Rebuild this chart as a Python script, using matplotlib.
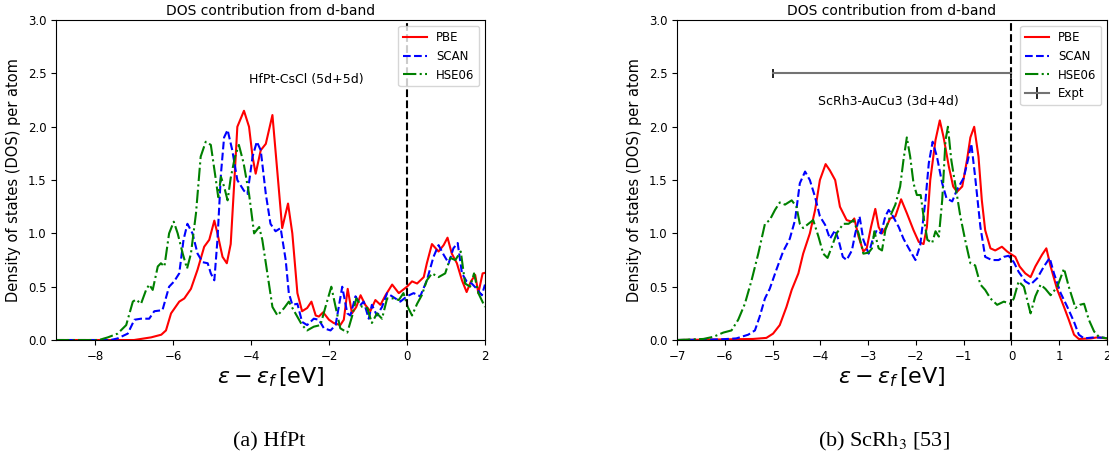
import matplotlib
matplotlib.use('Agg')
import matplotlib.pyplot as plt

# ---- (a) HfPt, energies in eV relative to E_f, DOS per atom ----
hf_pbe_x = [-9.0, -7.0, -6.56, -6.3, -6.18, -6.05, -5.84, -5.71, -5.54, -5.37, -5.2, -5.07, -4.94,
            -4.86, -4.73, -4.62, -4.52, -4.43, -4.35, -4.18, -4.05, -3.96, -3.88, -3.75, -3.62,
            -3.45, -3.32, -3.2, -3.05, -2.94, -2.81, -2.69, -2.56, -2.45, -2.34, -2.26, -2.15,
            -2.0, -1.88, -1.71, -1.62, -1.52, -1.41, -1.3, -1.19, -1.07, -0.94, -0.81, -0.68,
            -0.55, -0.38, -0.21, 0.0, 0.13, 0.26, 0.43, 0.51, 0.64, 0.81, 0.94, 1.04, 1.15, 1.28,
            1.41, 1.53, 1.64, 1.75, 1.83, 1.94, 2.0]
hf_pbe_y = [0.0, 0.0, 0.025, 0.05, 0.09, 0.25, 0.36, 0.39, 0.48, 0.66, 0.875, 0.94, 1.12,
            1.0, 0.78, 0.72, 0.9, 1.47, 2.0, 2.15, 2.0, 1.72, 1.56, 1.78, 1.84,
            2.11, 1.56, 1.05, 1.28, 1.0, 0.44, 0.27, 0.3, 0.36, 0.23, 0.22, 0.26,
            0.19, 0.16, 0.14, 0.19, 0.48, 0.25, 0.31, 0.42, 0.33, 0.27, 0.375, 0.33,
            0.42, 0.52, 0.44, 0.5, 0.55, 0.53, 0.59, 0.72, 0.9, 0.83, 0.89, 0.96, 0.81, 0.72,
            0.56, 0.45, 0.55, 0.61, 0.44, 0.625, 0.63]

hf_scan_x = [-9.0, -7.6, -7.42, -7.16, -6.99, -6.82, -6.61, -6.48, -6.27, -6.1, -5.97, -5.84,
             -5.73, -5.63, -5.5, -5.37, -5.24, -5.11, -5.03, -4.94, -4.86, -4.77, -4.69, -4.6,
             -4.48, -4.35, -4.18, -4.09, -3.96, -3.85, -3.75, -3.62, -3.5, -3.37, -3.24, -3.11,
             -3.03, -2.94, -2.81, -2.69, -2.56, -2.39, -2.26, -2.13, -1.96, -1.83, -1.66, -1.53,
             -1.45, -1.32, -1.19, -1.11, -0.98, -0.9, -0.77, -0.64, -0.51, -0.34, -0.17, 0.0,
             0.17, 0.34, 0.51, 0.68, 0.81, 0.94, 1.07, 1.19, 1.3, 1.41, 1.53, 1.66, 1.79, 1.92, 2.0]
hf_scan_y = [0.0, 0.0, 0.015, 0.06, 0.19, 0.2, 0.2, 0.27, 0.28, 0.5, 0.55, 0.625,
             0.94, 1.09, 1.0, 0.81, 0.73, 0.72, 0.625, 0.56, 0.94, 1.56, 1.9, 1.97,
             1.78, 1.5, 1.4, 1.37, 1.72, 1.86, 1.78, 1.37, 1.09, 1.02, 1.05, 0.75,
             0.44, 0.33, 0.34, 0.17, 0.14, 0.2, 0.19, 0.11, 0.09, 0.14, 0.5, 0.25,
             0.23, 0.41, 0.33, 0.36, 0.2, 0.33, 0.23, 0.31, 0.44, 0.4, 0.36, 0.41,
             0.44, 0.41, 0.56, 0.78, 0.89, 0.8, 0.72, 0.86, 0.91, 0.625, 0.55, 0.53, 0.48, 0.42, 0.52]

hf_hse_x = [-9.0, -7.9, -7.67, -7.42, -7.2, -7.03, -6.95, -6.82, -6.69, -6.61, -6.52, -6.39,
            -6.31, -6.22, -6.1, -5.98, -5.88, -5.75, -5.64, -5.54, -5.41, -5.29, -5.16, -5.03,
            -4.9, -4.84, -4.77, -4.69, -4.6, -4.52, -4.41, -4.31, -4.19, -4.05, -3.92, -3.79,
            -3.71, -3.58, -3.45, -3.32, -3.15, -3.03, -2.86, -2.69, -2.56, -2.39, -2.22, -2.09,
            -1.94, -1.83, -1.71, -1.53, -1.41, -1.3, -1.15, -1.02, -0.9, -0.77, -0.64, -0.51,
            -0.34, -0.21, -0.09, 0.02, 0.13, 0.26, 0.38, 0.51, 0.64, 0.81, 0.98, 1.11, 1.24,
            1.38, 1.49, 1.62, 1.72, 1.83, 2.0]
hf_hse_y = [0.0, 0.0, 0.025, 0.06, 0.14, 0.36, 0.38, 0.34, 0.47, 0.52, 0.47, 0.69,
            0.72, 0.69, 1.0, 1.11, 1.0, 0.81, 0.67, 0.81, 1.19, 1.72, 1.86, 1.83,
            1.5, 1.34, 1.53, 1.44, 1.31, 1.52, 1.72, 1.83, 1.66, 1.37, 1.0, 1.06,
            0.94, 0.625, 0.31, 0.23, 0.3, 0.36, 0.25, 0.14, 0.09, 0.125, 0.14, 0.31,
            0.5, 0.31, 0.11, 0.07, 0.22, 0.39, 0.31, 0.3, 0.16, 0.25, 0.2, 0.39,
            0.39, 0.375, 0.44, 0.31, 0.23, 0.34, 0.42, 0.56, 0.625, 0.59, 0.625, 0.77, 0.75,
            0.83, 0.53, 0.5, 0.625, 0.44, 0.31]

# ---- (b) ScRh3 ----
sc_pbe_x = [-7.0, -5.41, -5.13, -4.99, -4.85, -4.71, -4.6, -4.46, -4.36, -4.22, -4.11, -4.01,
            -3.89, -3.8, -3.69, -3.59, -3.45, -3.34, -3.29, -3.2, -3.1, -3.03, -2.94, -2.85,
            -2.78, -2.71, -2.62, -2.54, -2.43, -2.31, -2.19, -2.05, -1.94, -1.84, -1.77, -1.7,
            -1.59, -1.5, -1.42, -1.31, -1.22, -1.14, -1.03, -0.93, -0.86, -0.78, -0.69, -0.62,
            -0.55, -0.44, -0.34, -0.2, -0.09, 0.01, 0.08, 0.17, 0.29, 0.4, 0.5, 0.64, 0.73,
            0.82, 0.96, 1.1, 1.2, 1.31, 1.41, 1.66, 1.8, 2.0]
sc_pbe_y = [0.0, 0.01, 0.02, 0.06, 0.14, 0.31, 0.47, 0.625, 0.81, 1.0, 1.22, 1.5,
            1.65, 1.59, 1.5, 1.25, 1.125, 1.11, 1.14, 0.97, 0.83, 0.86, 1.06, 1.23,
            1.06, 1.0, 1.06, 1.14, 1.16, 1.32, 1.19, 1.03, 0.92, 0.9, 1.06, 1.5,
            1.875, 2.06, 1.9, 1.625, 1.44, 1.39, 1.44, 1.69, 1.9, 2.0, 1.72, 1.31,
            1.03, 0.86, 0.84, 0.875, 0.83, 0.8, 0.78, 0.69, 0.625, 0.59, 0.69, 0.8, 0.86,
            0.69, 0.47, 0.31, 0.19, 0.05, 0.01, 0.015, 0.025, 0.015]

sc_scan_x = [-7.0, -6.1, -5.76, -5.51, -5.37, -5.27, -5.16, -5.06, -4.92, -4.78, -4.64, -4.53,
             -4.43, -4.32, -4.22, -4.11, -4.01, -3.9, -3.8, -3.69, -3.62, -3.53, -3.45, -3.34,
             -3.27, -3.18, -3.1, -2.99, -2.9, -2.82, -2.73, -2.64, -2.57, -2.48, -2.36, -2.26,
             -2.15, -2.01, -1.91, -1.8, -1.73, -1.65, -1.56, -1.45, -1.36, -1.24, -1.14, -1.0,
             -0.91, -0.84, -0.76, -0.65, -0.55, -0.41, -0.27, -0.16, -0.06, 0.05, 0.15, 0.29,
             0.4, 0.54, 0.68, 0.8, 0.89, 1.03, 1.17, 1.31, 1.41, 1.52, 1.73, 2.0]
sc_scan_y = [0.0, 0.006, 0.015, 0.05, 0.09, 0.22, 0.39, 0.48, 0.66, 0.83, 0.95, 1.125,
             1.47, 1.58, 1.5, 1.34, 1.16, 1.08, 0.95, 1.03, 0.94, 0.78, 0.75, 0.84,
             1.0, 1.16, 0.94, 0.81, 0.95, 1.03, 1.0, 1.16, 1.22, 1.16, 1.06, 0.95,
             0.86, 0.75, 0.89, 1.31, 1.66, 1.86, 1.72, 1.47, 1.33, 1.3, 1.41, 1.52,
             1.69, 1.84, 1.53, 1.06, 0.78, 0.75, 0.75, 0.78, 0.79, 0.73, 0.64, 0.55,
             0.52, 0.58, 0.69, 0.77, 0.625, 0.44, 0.31, 0.17, 0.05, 0.015, 0.025, 0.02]

sc_hse_x = [-7.0, -6.45, -6.24, -6.03, -5.86, -5.72, -5.58, -5.44, -5.3, -5.16, -5.06, -4.95,
            -4.85, -4.74, -4.6, -4.5, -4.43, -4.36, -4.25, -4.15, -4.04, -3.94, -3.85, -3.76,
            -3.66, -3.52, -3.41, -3.31, -3.2, -3.1, -2.99, -2.92, -2.87, -2.78, -2.71, -2.64,
            -2.54, -2.43, -2.33, -2.26, -2.19, -2.12, -2.05, -1.98, -1.9, -1.83, -1.76, -1.66,
            -1.59, -1.52, -1.45, -1.38, -1.33, -1.26, -1.17, -1.07, -0.97, -0.86, -0.76, -0.65,
            -0.55, -0.44, -0.3, -0.16, -0.02, 0.05, 0.15, 0.26, 0.4, 0.5, 0.61, 0.71, 0.82,
            0.96, 1.1, 1.2, 1.34, 1.43, 1.52, 1.62, 1.73, 1.83, 2.0]
sc_hse_y = [0.0, 0.01, 0.03, 0.07, 0.09, 0.19, 0.34, 0.56, 0.81, 1.09, 1.125, 1.22,
            1.29, 1.27, 1.31, 1.25, 1.09, 1.05, 1.09, 1.125, 0.97, 0.81, 0.77, 0.875,
            1.0, 1.09, 1.09, 1.125, 1.0, 0.81, 0.82, 0.86, 1.02, 0.86, 0.84, 1.03,
            1.16, 1.27, 1.44, 1.69, 1.9, 1.72, 1.47, 1.36, 1.36, 1.125, 0.94, 0.91,
            1.02, 0.97, 1.31, 1.875, 2.0, 1.69, 1.44, 1.16, 0.94, 0.72, 0.7, 0.52,
            0.47, 0.39, 0.33, 0.36, 0.34, 0.39, 0.55, 0.5, 0.25, 0.41, 0.52, 0.48, 0.42,
            0.5, 0.67, 0.5, 0.3, 0.33, 0.34, 0.19, 0.08, 0.03, 0.015]

# experimental d-band width for ScRh3 (ends of the bar)
expt_x = [-5.0, 0.0]
expt_y = [2.5, 2.5]

fig = plt.figure(figsize=(11.09, 4.55), dpi=100)
ax1 = fig.add_axes([0.0505, 0.2527, 0.3868, 0.703])
ax2 = fig.add_axes([0.6105, 0.2527, 0.3877, 0.703])


def draw_panel(ax, series, xlim, xticks, note, note_xy):
    for x, y, style, lab in series:
        ax.plot(x, y, style, lw=1.5, label=lab)
    ax.axvline(0, color='k', ls='--', lw=1.5)
    ax.set_xlim(*xlim)
    ax.set_ylim(0, 3)
    ax.set_xticks(xticks)
    ax.set_yticks([0, 0.5, 1.0, 1.5, 2.0, 2.5, 3.0])
    ax.tick_params(labelsize=8.5)
    ax.set_title('DOS contribution from d-band', fontsize=10, pad=4)
    ax.set_ylabel('Density of states (DOS) per atom', fontsize=10.5, labelpad=5)
    ax.set_xlabel(r'$\epsilon - \epsilon_f\,$[eV]', fontsize=16, labelpad=2)
    ax.text(note_xy[0], note_xy[1], note, fontsize=9, ha='center', va='center')


draw_panel(ax1, [(hf_pbe_x, hf_pbe_y, 'r-', 'PBE'),
                 (hf_scan_x, hf_scan_y, 'b--', 'SCAN'),
                 (hf_hse_x, hf_hse_y, 'g-.', 'HSE06')],
           (-9, 2), [-8, -6, -4, -2, 0, 2], 'HfPt-CsCl (5d+5d)', (-2.57, 2.44))
ax1.legend(loc='upper right', fontsize=8.5)

draw_panel(ax2, [(sc_pbe_x, sc_pbe_y, 'r-', 'PBE'),
                 (sc_scan_x, sc_scan_y, 'b--', 'SCAN'),
                 (sc_hse_x, sc_hse_y, 'g-.', 'HSE06')],
           (-7, 2), list(range(-7, 3)), 'ScRh3-AuCu3 (3d+4d)', (-2.57, 2.24))
ax2.errorbar(expt_x, expt_y, yerr=0.04, color='0.45', ecolor='k', elinewidth=1.2,
             lw=1.5, capsize=0, label='Expt')
ax2.legend(loc='upper right', fontsize=8.5)

fig.text(0.243, 0.029, '(a) HfPt', family='Liberation Serif', fontsize=16,
         ha='center', va='center')
fig.text(0.797, 0.029, r'(b) ScRh$_3$ [53]', family='Liberation Serif', fontsize=16,
         ha='center', va='center', math_fontfamily='stix')

fig.savefig('out.png', dpi=100)
